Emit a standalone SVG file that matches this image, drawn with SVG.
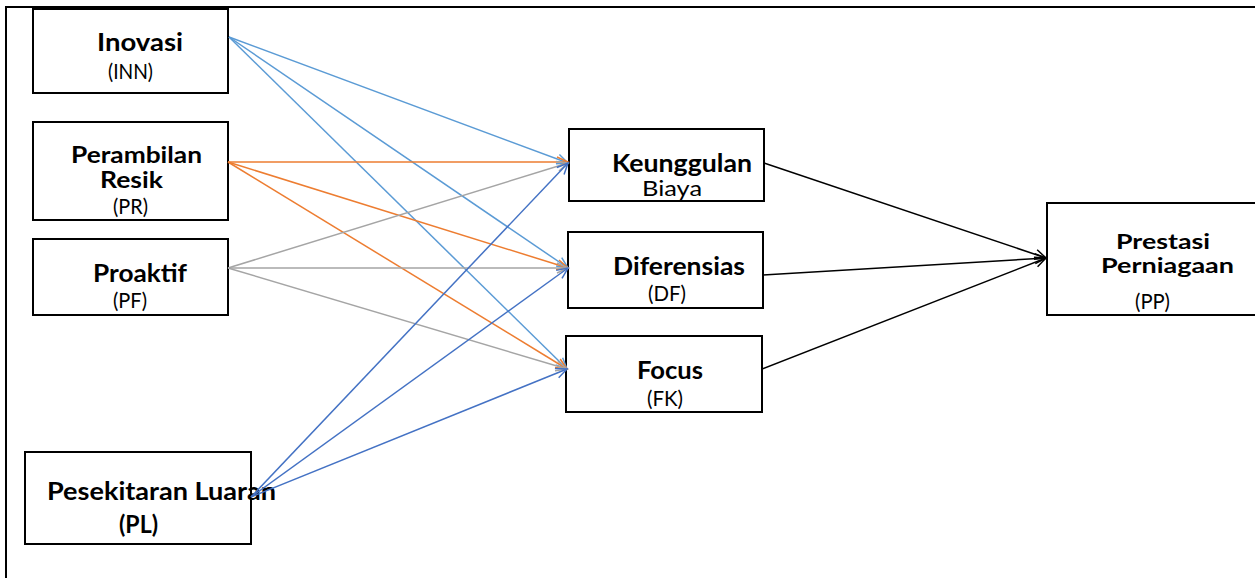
<svg xmlns="http://www.w3.org/2000/svg" width="1255" height="578" viewBox="0 0 1255 578">
<style>
.box{fill:#fff;stroke:#000;stroke-width:2}
.b{font-family:Lato,"Liberation Sans",sans-serif;font-weight:bold;font-size:24px;fill:#000}
.b2{font-family:Lato,"Liberation Sans",sans-serif;font-weight:bold;font-size:22px;fill:#000}
.b3{font-family:Lato,"Liberation Sans",sans-serif;font-weight:bold;font-size:21px;fill:#000}
.r{font-family:Lato,"Liberation Sans",sans-serif;font-size:21px;fill:#000}
.c{fill:none;stroke-width:1.5}
.lb{stroke:#5B9BD5}
.or{stroke:#ED7D31}
.gr{stroke:#A5A5A5}
.db{stroke:#4472C4}
.bk{stroke:#000}
</style>
<defs>
<marker id="mlb" markerUnits="userSpaceOnUse" markerWidth="14" markerHeight="14" refX="12" refY="6" orient="auto"><path d="M1,1 L12,6 L1,11" fill="none" stroke="#5B9BD5" stroke-width="1.5"/></marker>
<marker id="mor" markerUnits="userSpaceOnUse" markerWidth="14" markerHeight="14" refX="12" refY="6" orient="auto"><path d="M1,1 L12,6 L1,11" fill="none" stroke="#ED7D31" stroke-width="1.5"/></marker>
<marker id="mgr" markerUnits="userSpaceOnUse" markerWidth="14" markerHeight="14" refX="12" refY="6" orient="auto"><path d="M1,1 L12,6 L1,11" fill="none" stroke="#A5A5A5" stroke-width="1.5"/></marker>
<marker id="mdb" markerUnits="userSpaceOnUse" markerWidth="14" markerHeight="14" refX="12" refY="6" orient="auto"><path d="M1,1 L12,6 L1,11" fill="none" stroke="#4472C4" stroke-width="1.5"/></marker>
<marker id="mbk" markerUnits="userSpaceOnUse" markerWidth="14" markerHeight="14" refX="12" refY="6" orient="auto"><path d="M1,1 L12,6 L1,11" fill="none" stroke="#000" stroke-width="1.5"/></marker>
</defs>
<rect width="1255" height="578" fill="#fff"/>
<g id="frame" fill="none" stroke="#000" stroke-width="2">
<path d="M6,578 L6,7 L1255,7"/>
</g>
<g id="node-inovasi">
<rect class="box" x="33" y="9" width="195" height="84"/>
<text class="b" x="97" y="51" textLength="86" lengthAdjust="spacingAndGlyphs">Inovasi</text>
<text class="r" x="108" y="79" textLength="45" lengthAdjust="spacingAndGlyphs">(INN)</text>
</g>
<g id="node-perambilan">
<rect class="box" x="33" y="122" width="195" height="98"/>
<text class="b2" x="71" y="163" textLength="131" lengthAdjust="spacingAndGlyphs">Perambilan</text>
<text class="b2" x="100" y="188" textLength="63" lengthAdjust="spacingAndGlyphs">Resik</text>
<text class="r" x="113" y="214" textLength="35" lengthAdjust="spacingAndGlyphs">(PR)</text>
</g>
<g id="node-proaktif">
<rect class="box" x="33" y="239" width="195" height="76"/>
<text class="b" x="93" y="282" textLength="94" lengthAdjust="spacingAndGlyphs">Proaktif</text>
<text class="r" x="113" y="308" textLength="34" lengthAdjust="spacingAndGlyphs">(PF)</text>
</g>
<g id="node-pesekitaran">
<rect class="box" x="25" y="452" width="226" height="92"/>
<text class="b" x="47" y="500" textLength="229" lengthAdjust="spacingAndGlyphs">Pesekitaran Luaran</text>
<text class="b" x="119" y="533" textLength="39" lengthAdjust="spacingAndGlyphs">(PL)</text>
</g>
<g id="node-keunggulan">
<rect class="box" x="569" y="129" width="195" height="72"/>
<text class="b" x="612" y="172" textLength="140" lengthAdjust="spacingAndGlyphs">Keunggulan</text>
<text class="r" x="642" y="196" textLength="60" lengthAdjust="spacingAndGlyphs">Biaya</text>
</g>
<g id="node-diferensias">
<rect class="box" x="568" y="232" width="195" height="76"/>
<text class="b" x="613" y="275" textLength="132" lengthAdjust="spacingAndGlyphs">Diferensias</text>
<text class="r" x="648" y="301" textLength="38" lengthAdjust="spacingAndGlyphs">(DF)</text>
</g>
<g id="node-focus">
<rect class="box" x="566" y="336" width="196" height="76"/>
<text class="b" x="637" y="379" textLength="66" lengthAdjust="spacingAndGlyphs">Focus</text>
<text class="r" x="647" y="406" textLength="36" lengthAdjust="spacingAndGlyphs">(FK)</text>
</g>
<g id="node-prestasi">
<rect class="box" x="1047" y="203" width="210" height="112"/>
<text class="b3" x="1116" y="249" textLength="94" lengthAdjust="spacingAndGlyphs">Prestasi</text>
<text class="b3" x="1101" y="273" textLength="133" lengthAdjust="spacingAndGlyphs">Perniagaan</text>
<text class="r" x="1135" y="309" textLength="35" lengthAdjust="spacingAndGlyphs">(PP)</text>
</g>
<g id="connectors">
<line class="c lb" x1="229" y1="37" x2="568" y2="163" marker-end="url(#mlb)"/>
<line class="c lb" x1="229" y1="37" x2="568" y2="268" marker-end="url(#mlb)"/>
<line class="c lb" x1="229" y1="37" x2="567" y2="369" marker-end="url(#mlb)"/>
<line class="c or" x1="228" y1="162" x2="568" y2="162" marker-end="url(#mor)"/>
<line class="c or" x1="228" y1="162" x2="568" y2="268" marker-end="url(#mor)"/>
<line class="c or" x1="228" y1="162" x2="567" y2="369" marker-end="url(#mor)"/>
<line class="c gr" x1="228" y1="268" x2="568" y2="163" marker-end="url(#mgr)"/>
<line class="c gr" x1="228" y1="268" x2="568" y2="268" marker-end="url(#mgr)"/>
<line class="c gr" x1="228" y1="268" x2="567" y2="369" marker-end="url(#mgr)"/>
<line class="c db" x1="251" y1="497" x2="568" y2="163" marker-end="url(#mdb)"/>
<line class="c db" x1="251" y1="497" x2="568" y2="268" marker-end="url(#mdb)"/>
<line class="c db" x1="251" y1="497" x2="567" y2="369" marker-end="url(#mdb)"/>
<line class="c bk" x1="764" y1="163" x2="1046" y2="258" marker-end="url(#mbk)"/>
<line class="c bk" x1="763" y1="275" x2="1046" y2="258" marker-end="url(#mbk)"/>
<line class="c bk" x1="762" y1="369" x2="1046" y2="258" marker-end="url(#mbk)"/>
</g>
</svg>
